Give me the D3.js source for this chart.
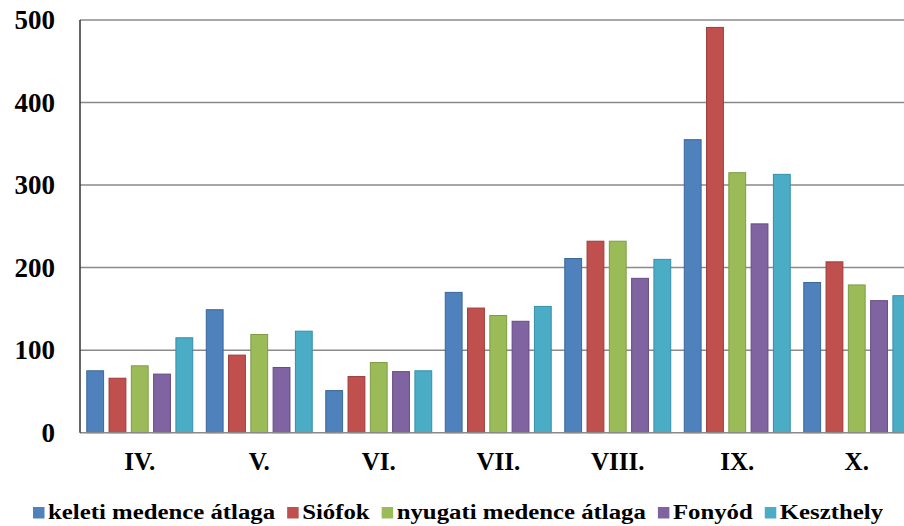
<!DOCTYPE html>
<html>
<head>
<meta charset="utf-8">
<script src="https://cdn.jsdelivr.net/npm/d3@7/dist/d3.min.js"></script>
<style>
  html, body { margin: 0; padding: 0; background: #fff; }
  svg { display: block; }
  text { font-family: "Liberation Serif", "Times New Roman", serif; font-weight: bold; fill: #000; }
</style>
</head>
<body>
<svg id="chart" width="904" height="526"></svg>
<script>
const categories = ["IV.", "V.", "VI.", "VII.", "VIII.", "IX.", "X."];
const seriesNames = ["keleti medence átlaga", "Siófok", "nyugati medence átlaga", "Fonyód", "Keszthely"];
const keleti    = [75, 149, 51, 170, 211, 355, 182];
const siofok    = [66, 94, 68, 151, 232, 491, 207];
const nyugati   = [81, 119, 85, 142, 232, 315, 179];
const fonyod    = [71, 79, 74, 135, 187, 253, 160];
const keszthely = [115, 123, 75, 153, 210, 313, 166];
const yTicks = [0, 100, 200, 300, 400, 500];
const colors = ["#4F81BD", "#C0504D", "#9BBB59", "#8064A2", "#4BACC6"];
const strokes = ["#3A6699", "#9E3B38", "#7E9C44", "#654C85", "#3490A8"];

const seriesValues = [keleti, siofok, nyugati, fonyod, keszthely];

const svg = d3.select("#chart");
const plotLeft = 80, plotTop = 20, plotBottom = 432.7;
const step = 119.5;
const plotRight = plotLeft + step * categories.length;

const y = d3.scaleLinear().domain([0, 500]).range([plotBottom, plotTop]);
const x0 = d3.scaleBand().domain(categories).range([plotLeft, plotRight]).paddingInner(0.105).paddingOuter(0.0525);
const x1 = d3.scaleBand().domain(d3.range(seriesNames.length)).range([0, x0.bandwidth()]).paddingInner(0.2).paddingOuter(0);

// gridlines
svg.append("g").selectAll("line").data(yTicks.filter(t => t > 0)).join("line")
  .attr("x1", plotLeft).attr("x2", 904)
  .attr("y1", d => y(d)).attr("y2", d => y(d))
  .attr("stroke", "#8a8a8a").attr("stroke-width", 1.5);

// bars
const groups = svg.append("g").selectAll("g").data(categories).join("g")
  .attr("transform", d => `translate(${x0(d)},0)`);
groups.selectAll("rect").data((c, i) => seriesValues.map((vals, s) => ({ s, v: vals[i] }))).join("rect")
  .attr("x", d => x1(d.s) + 0.5)
  .attr("width", x1.bandwidth() - 1)
  .attr("y", d => y(d.v))
  .attr("height", d => plotBottom - y(d.v))
  .attr("fill", d => colors[d.s])
  .attr("stroke", d => strokes[d.s])
  .attr("stroke-width", 1);

// axes lines
svg.append("line").attr("x1", plotLeft).attr("x2", 904).attr("y1", plotBottom).attr("y2", plotBottom)
  .attr("stroke", "#8a8a8a").attr("stroke-width", 1.5);
svg.append("line").attr("x1", plotLeft).attr("x2", plotLeft).attr("y1", plotTop).attr("y2", plotBottom)
  .attr("stroke", "#333").attr("stroke-width", 1.5);

// y tick labels
const yAxis = d3.axisLeft(y).tickValues(yTicks).tickSize(0).tickPadding(0);
const yg = svg.append("g").attr("transform", `translate(55,0)`).call(yAxis);
yg.select(".domain").remove();
yg.selectAll("text").style("font-size", "27px").style("font-family", "Liberation Serif, serif").style("font-weight", "bold").attr("fill", "#000");

// x labels
const xAxis = d3.axisBottom(x0).tickSize(0).tickPadding(0);
const xg = svg.append("g").attr("transform", `translate(0,452)`).call(xAxis);
xg.select(".domain").remove();
xg.selectAll("text").attr("dy", "0.71em").attr("y", 0)
  .style("font-size", "25px").style("font-family", "Liberation Serif, serif").style("font-weight", "bold").attr("fill", "#000");

// legend (text stretched horizontally as in the reference)
const legend = svg.append("g");
const sx = 1.24;
let lx = 33;
const ly = 519;
seriesNames.forEach((name, i) => {
  legend.append("rect").attr("x", lx).attr("y", ly - 12).attr("width", 11.5).attr("height", 11.5)
    .attr("fill", colors[i]);
  const tx = lx + 15;
  const t = legend.append("text")
    .attr("transform", `translate(${tx},${ly}) scale(${sx},1)`)
    .style("font-size", "20px").style("font-family", "Liberation Serif, serif").style("font-weight", "bold")
    .attr("fill", "#000").text(name);
  lx = tx + t.node().getComputedTextLength() * sx + 12;
});
</script>
</body>
</html>
